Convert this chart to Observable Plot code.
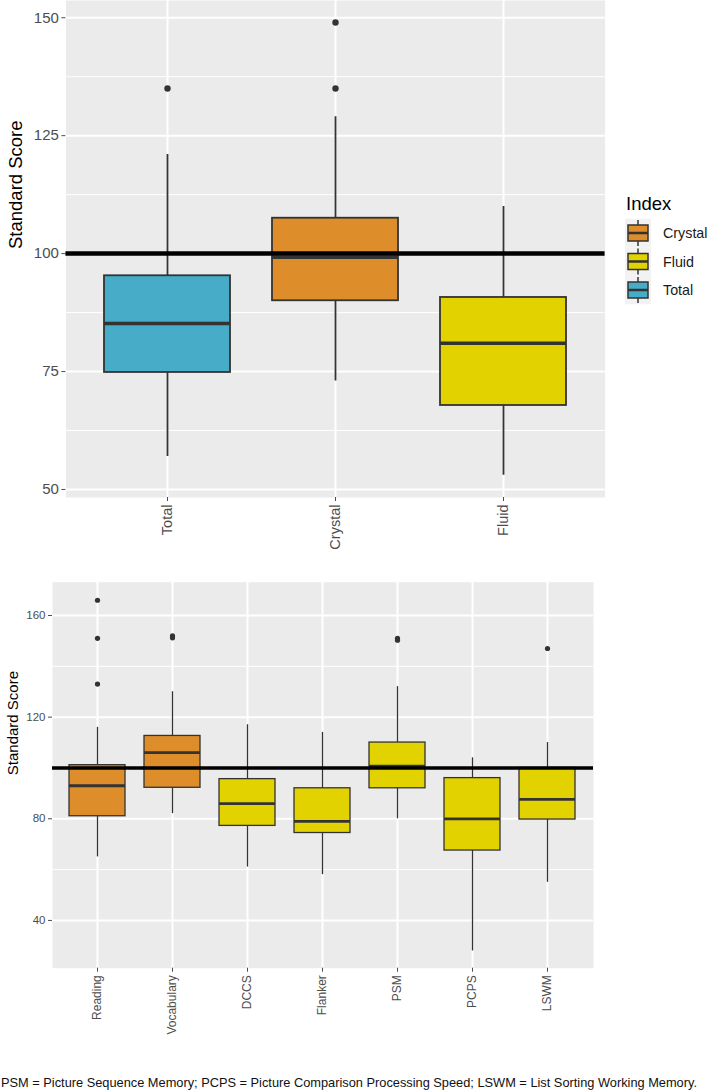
<!DOCTYPE html>
<html>
<head>
<meta charset="utf-8">
<script src="https://cdn.jsdelivr.net/npm/d3@7"></script>
<script src="https://cdn.jsdelivr.net/npm/@observablehq/plot@0.6"></script>
<style>
  html, body { margin: 0; padding: 0; background: #fff; }
  #wrap { position: relative; width: 709px; height: 1092px; overflow: hidden; font-family: "Liberation Sans", Arial, sans-serif; }
  #wrap svg { display: block; }
  .abs { position: absolute; left: 0; }
</style>
</head>
<body>
<div id="wrap"></div>
<script>
// ---------- Data ----------
const indexDomain = ["Crystal", "Fluid", "Total"];
const indexColors = ["#DD8D29", "#E2D200", "#46ACC8"];

// Top panel (composite indices)
const topCats   = ["Total", "Crystal", "Fluid"];
const topGroups = ["Total", "Crystal", "Fluid"];
const topLow    = [57, 73, 53];
const topQ1     = [74.8, 90, 67.8];
const topMed    = [85.2, 99.2, 81];
const topQ3     = [95.3, 107.5, 90.7];
const topHigh   = [121, 129, 110];
const topOutCat = ["Total", "Crystal", "Crystal"];
const topOutVal = [135, 135, 149];
const topMajor  = [50, 75, 100, 125, 150];
const topMinor  = [62.5, 87.5, 112.5, 137.5];

// Bottom panel (subtests)
const botCats   = ["Reading", "Vocabulary", "DCCS", "Flanker", "PSM", "PCPS", "LSWM"];
const botGroups = ["Crystal", "Crystal", "Fluid", "Fluid", "Fluid", "Fluid", "Fluid"];
const botLow    = [65, 82, 61, 58, 80, 28, 55];
const botQ1     = [81, 92.2, 77.2, 74.4, 92, 67.5, 79.7];
const botMed    = [93, 106, 86, 79, 100.7, 80, 87.6];
const botQ3     = [101.1, 112.6, 95.6, 92, 110, 96, 100];
const botHigh   = [116, 130, 117, 114, 132, 104, 110];
const botOutCat = ["Reading", "Reading", "Reading", "Vocabulary", "Vocabulary", "PSM", "PSM", "LSWM"];
const botOutVal = [166, 151, 133, 152, 151.2, 151, 150.3, 147];
const botMajor  = [40, 80, 120, 160];
const botMinor  = [60, 100, 140];

const refLine = [100];
const yLabel = ["Standard Score"];
const legendTitle = "Index";
const caption = "PSM = Picture Sequence Memory; PCPS = Picture Comparison Processing Speed; LSWM = List Sorting Working Memory.";

// ---------- Panel builder ----------
function panel(o) {
  const rows = o.cats.map((c, i) => ({cat: c, group: o.groups[i], low: o.low[i], q1: o.q1[i], med: o.med[i], q3: o.q3[i], high: o.high[i]}));
  const outs = o.outCat.map((c, i) => ({cat: c, v: o.outVal[i]}));
  return Plot.plot({
    width: 709,
    height: o.height,
    marginTop: o.mt, marginBottom: o.mb, marginLeft: o.ml, marginRight: o.mr,
    style: {fontFamily: "'Liberation Sans', Arial, sans-serif", background: "transparent", overflow: "visible"},
    x: {type: "band", domain: o.cats, paddingInner: 0.25, paddingOuter: 0.225, align: 0.5, label: null},
    y: {domain: o.yDomain, label: null},
    color: {domain: indexDomain, range: indexColors},
    marks: [
      Plot.frame({fill: "#EBEBEB", stroke: null}),
      Plot.ruleY(o.minor, {stroke: "white", strokeWidth: 1}),
      Plot.ruleY(o.major, {stroke: "white", strokeWidth: 2}),
      Plot.ruleX(o.cats, {x: d => d, stroke: "white", strokeWidth: 2}),
      Plot.ruleX(rows, {x: "cat", y1: "low", y2: "high", stroke: "#333333", strokeWidth: o.lw}),
      Plot.barY(rows, {x: "cat", y1: "q1", y2: "q3", fill: "group", stroke: "#333333", strokeWidth: o.lw}),
      Plot.tickY(rows, {x: "cat", y: "med", stroke: "#333333", strokeWidth: o.mw}),
      Plot.dot(outs, {x: "cat", y: "v", fill: "#333333", stroke: null, r: o.r}),
      Plot.ruleY(refLine, {stroke: "black", strokeWidth: o.refW}),
      Plot.axisY({ticks: o.major, tickSize: 4, tickPadding: 3, fontSize: o.tickFont, color: "#4D4D4D", label: null}),
      Plot.axisX({tickRotate: -90, tickSize: 4, tickPadding: 3, fontSize: o.xFont, color: "#4D4D4D", label: null}),
      Plot.text(yLabel, {text: d => d, frameAnchor: "left", dx: -o.labOff, rotate: -90, fontSize: o.labFont, fill: "black"})
    ]
  });
}

const wrap = document.getElementById("wrap");

// Top panel
const topChart = panel({
  cats: topCats, groups: topGroups, low: topLow, q1: topQ1, med: topMed, q3: topQ3, high: topHigh,
  outCat: topOutCat, outVal: topOutVal, major: topMajor, minor: topMinor,
  yDomain: [48.3, 153.65], height: 545, mt: 0, mb: 48, ml: 65.4, mr: 104.4,
  lw: 1.8, mw: 3.5, r: 3.2, refW: 4.5, tickFont: 15, xFont: 14.5, labFont: 18.5, labOff: 50
});
topChart.classList.add("abs");
topChart.style.top = "0px";
wrap.appendChild(topChart);

// Bottom panel
const botChart = panel({
  cats: botCats, groups: botGroups, low: botLow, q1: botQ1, med: botMed, q3: botQ3, high: botHigh,
  outCat: botOutCat, outVal: botOutVal, major: botMajor, minor: botMinor,
  yDomain: [21.2, 173.1], height: 495, mt: 36.7, mb: 72.3, ml: 52, mr: 116,
  lw: 1.3, mw: 2.8, r: 2.6, refW: 3.5, tickFont: 11.5, xFont: 12, labFont: 15, labOff: 39
});
botChart.classList.add("abs");
botChart.style.top = "545px";
wrap.appendChild(botChart);

// Legend (top panel, fill scale)
const leg = d3.create("svg").attr("width", 709).attr("height", 545)
  .attr("class", "abs").style("top", "0px").style("pointer-events", "none")
  .style("font-family", "'Liberation Sans', Arial, sans-serif");
leg.append("text").attr("x", 626).attr("y", 209.5).attr("font-size", 18.5).attr("fill", "black").text(legendTitle);
const rowY = d3.scalePoint().domain(indexDomain).range([233, 290]);
const colorOf = d3.scaleOrdinal(indexDomain, indexColors);
indexDomain.forEach(g => {
  const c = rowY(g);
  const k = leg.append("g");
  k.append("rect").attr("x", 625).attr("y", c - 14.25).attr("width", 26).attr("height", 28.5).attr("fill", "#F2F2F2");
  k.append("line").attr("x1", 638).attr("x2", 638).attr("y1", c - 13).attr("y2", c + 13).attr("stroke", "#333").attr("stroke-width", 1.5);
  k.append("rect").attr("x", 628).attr("y", c - 8).attr("width", 20).attr("height", 16).attr("fill", colorOf(g)).attr("stroke", "#333").attr("stroke-width", 1.5);
  k.append("line").attr("x1", 628).attr("x2", 648).attr("y1", c).attr("y2", c).attr("stroke", "#333").attr("stroke-width", 2.5);
  k.append("text").attr("x", 663).attr("y", c + 5).attr("font-size", 14.3).attr("fill", "#1a1a1a").text(g);
});
wrap.appendChild(leg.node());

// Caption
const cap = d3.create("svg").attr("width", 709).attr("height", 52)
  .attr("class", "abs").style("top", "1040px")
  .style("font-family", "'Liberation Sans', Arial, sans-serif");
cap.append("text").attr("x", 1).attr("y", 47).attr("font-size", 13)
  .attr("textLength", 696).attr("lengthAdjust", "spacingAndGlyphs").attr("fill", "#111").text(caption);
wrap.appendChild(cap.node());
</script>
</body>
</html>
